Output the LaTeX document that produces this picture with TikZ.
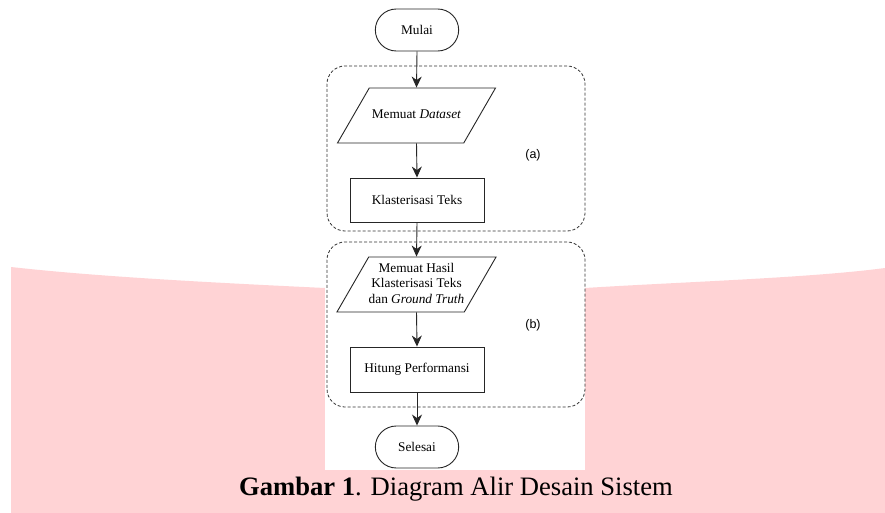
\documentclass[tikz,border=0pt]{standalone}
\usepackage{fontspec}
\setmainfont{Liberation Serif}
\newfontfamily\labelfont{Liberation Sans}
\usetikzlibrary{shapes.geometric,shapes.misc,arrows.meta}
\definecolor{bgpink}{RGB}{255,211,213}
\begin{document}
\begin{tikzpicture}[x=1pt,y=-1pt,
	terminal/.style={rounded rectangle, minimum width=90pt, minimum height=42pt, draw=black!85, line width=0.9pt, font=\fontsize{13.3}{15.5}\selectfont},
	io/.style={trapezium, trapezium left angle=60, trapezium right angle=120, trapezium stretches body=true, minimum width=158pt, inner xsep=0pt, inner ysep=21.5pt, text height=9.5pt, text depth=2.5pt, draw=black!85, line width=0.9pt, align=center, font=\fontsize{13.3}{15.5}\selectfont},
	process/.style={rectangle, minimum width=134pt, minimum height=44pt, draw=black!85, line width=0.9pt, font=\fontsize{13.3}{15.5}\selectfont},
	group/.style={rectangle, rounded corners=18pt, minimum width=258pt, minimum height=165pt, draw=black!80, line width=0.8pt, dash pattern=on 3pt off 2pt},
	tag/.style={font=\labelfont\fontsize{12.5}{14}\selectfont},
	flow/.style={black!85, line width=0.9pt, -{Stealth[length=11pt,width=10pt,inset=3.5pt]}}]
	
	\useasboundingbox (0,0) rectangle (885,513);
	
	%Background
	\fill[white] (0,0) rectangle (885,513);
	\fill[bgpink] (11,513) -- (11,267) .. controls (100,277) and (220,283) .. (325,288)
		-- (585,288) .. controls (680,282) and (810,278) .. (885,268) -- (885,513) -- cycle;
	\fill[white] (325,0) rectangle (585,470);
	
	%Groups
	\node[group]	(grpa)	at (456,148.5)	{};
	\node[group]	(grpb)	at (456,324.5)	{};
	\node[tag]	(taga)	at (533,155)	{(a)};
	\node[tag]	(tagb)	at (533,325)	{(b)};
	
	%Nodes
	\node[terminal]	(mulai)	at (417,30)	{Mulai};
	\node[io]	(dataset)	at (416.5,115.5)	{Memuat \textit{Dataset}};
	\node[process]	(klaster)	at (417,200)	{Klasterisasi Teks};
	\node[io, text height=, text depth=, inner ysep=4.25pt]	(hasil)	at (416.5,284.5)
		{\begin{tabular}[b]{@{}c@{}}Memuat Hasil\\Klasterisasi Teks\\dan \textit{Ground Truth}\end{tabular}};
	\node[process, minimum height=45pt]	(hitung)	at (417,369.5)	{Hitung Performansi};
	\node[terminal]	(selesai)	at (417,447)	{Selesai};
	
	%Lines
	\draw[flow] (mulai.south) -- (dataset.north);
	\draw[flow] (dataset.south) -- (klaster.north);
	\draw[flow] (klaster.south) -- (hasil.north);
	\draw[flow] (hasil.south) -- (hitung.north);
	\draw[flow] (hitung.south) -- (selesai.north);
	
	%Caption
	\node[anchor=base, font=\fontsize{26.6}{30}\selectfont]	(caption)	at (456,495)	{\textbf{Gambar 1}. Diagram Alir Desain Sistem};
\end{tikzpicture}
\end{document}
